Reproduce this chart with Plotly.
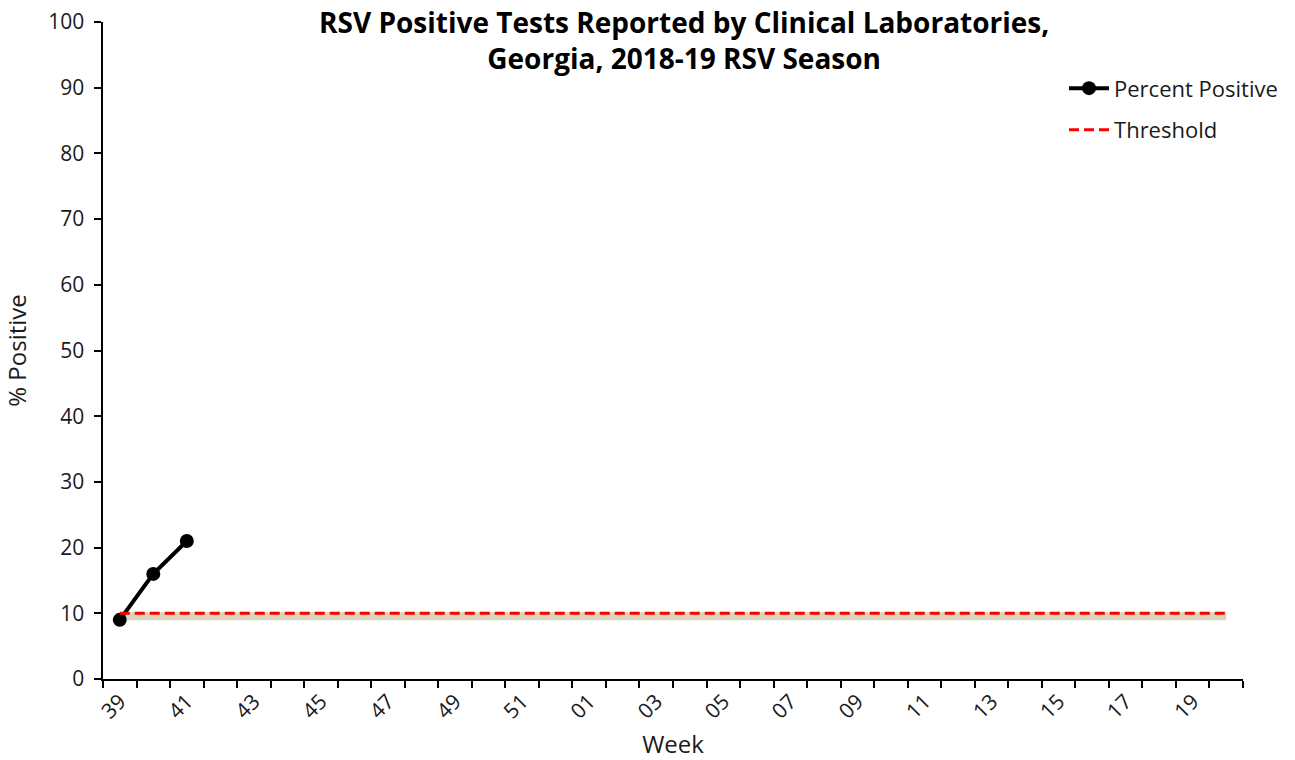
import plotly.graph_objects as go

weeks = [str(w) for w in range(39, 53)] + [f"{w:02d}" for w in range(1, 21)]
percent_positive = [9, 16, 21]
threshold = [10] * len(weeks)
tick_labels = [w if i % 2 == 0 else "" for i, w in enumerate(weeks)]
title_text = "RSV Positive Tests Reported by Clinical Laboratories,<br>Georgia, 2018-19 RSV Season"

FONT = "Open Sans"
TXT = "#1a1a1a"
W, H = 1295, 760
L, R, T, B = 103, 43, 22, 81
PLOT_W = W - L - R
PLOT_H = H - T - B

fig = go.Figure()

# soft shadow under the threshold line
fig.add_trace(go.Scatter(
    x=weeks, y=[v - 0.45 for v in threshold], mode="lines",
    line=dict(color="rgba(150,125,50,0.33)", width=8),
    hoverinfo="skip", showlegend=False))

fig.add_trace(go.Scatter(
    x=weeks[:len(percent_positive)], y=percent_positive, mode="lines+markers",
    name="Percent Positive", legendgroup="a",
    line=dict(color="black", width=4),
    marker=dict(color="black", size=14)))

fig.add_trace(go.Scatter(
    x=weeks, y=threshold, mode="lines", name="Threshold", legendgroup="b",
    line=dict(color="#ff0000", width=3, dash="10px,5px")))

fig.add_annotation(
    text=f"<b>{title_text}</b>", xref="paper", yref="paper",
    x=(689 - L) / PLOT_W, y=(H - B - 1) / PLOT_H,
    xanchor="center", yanchor="top", showarrow=False,
    font=dict(family=FONT, size=28, color="black"))

fig.update_layout(
    width=W, height=H,
    paper_bgcolor="white", plot_bgcolor="white",
    margin=dict(l=L, r=R, t=T, b=B),
    font=dict(family=FONT, color=TXT, size=21),
    legend=dict(
        x=0.843, y=0.931, xanchor="left", yanchor="top",
        font=dict(family=FONT, size=22, color=TXT),
        bgcolor="rgba(0,0,0,0)", tracegroupgap=10, traceorder="grouped",
        itemwidth=40),
    showlegend=True,
)

fig.update_xaxes(
    type="category", categoryorder="array", categoryarray=weeks,
    range=[-0.5, len(weeks) - 0.5], automargin=False,
    tickmode="array", tickvals=weeks, ticktext=tick_labels,
    tickangle=-45, tickson="boundaries",
    ticks="outside", ticklen=7, tickwidth=2, tickcolor="black",
    showline=True, linecolor="black", linewidth=2,
    showgrid=False, zeroline=False,
    tickfont=dict(family=FONT, size=21, color=TXT),
    title=dict(text="Week", font=dict(family=FONT, size=24, color=TXT)),
)

fig.update_yaxes(
    range=[0, 100], tickmode="linear", tick0=0, dtick=10, automargin=False,
    ticks="outside", ticklen=7, tickwidth=2, tickcolor="black",
    ticksuffix="\u00a0", ticklabeloverflow="allow",
    showline=True, linecolor="black", linewidth=2,
    showgrid=False, zeroline=False,
    tickfont=dict(family=FONT, size=21, color=TXT),
    title=dict(text="% Positive", font=dict(family=FONT, size=24, color=TXT)),
)

fig.write_html("out.html", config={"displayModeBar": False},
               post_script="document.body.style.margin='0';document.body.style.overflow='hidden';")
